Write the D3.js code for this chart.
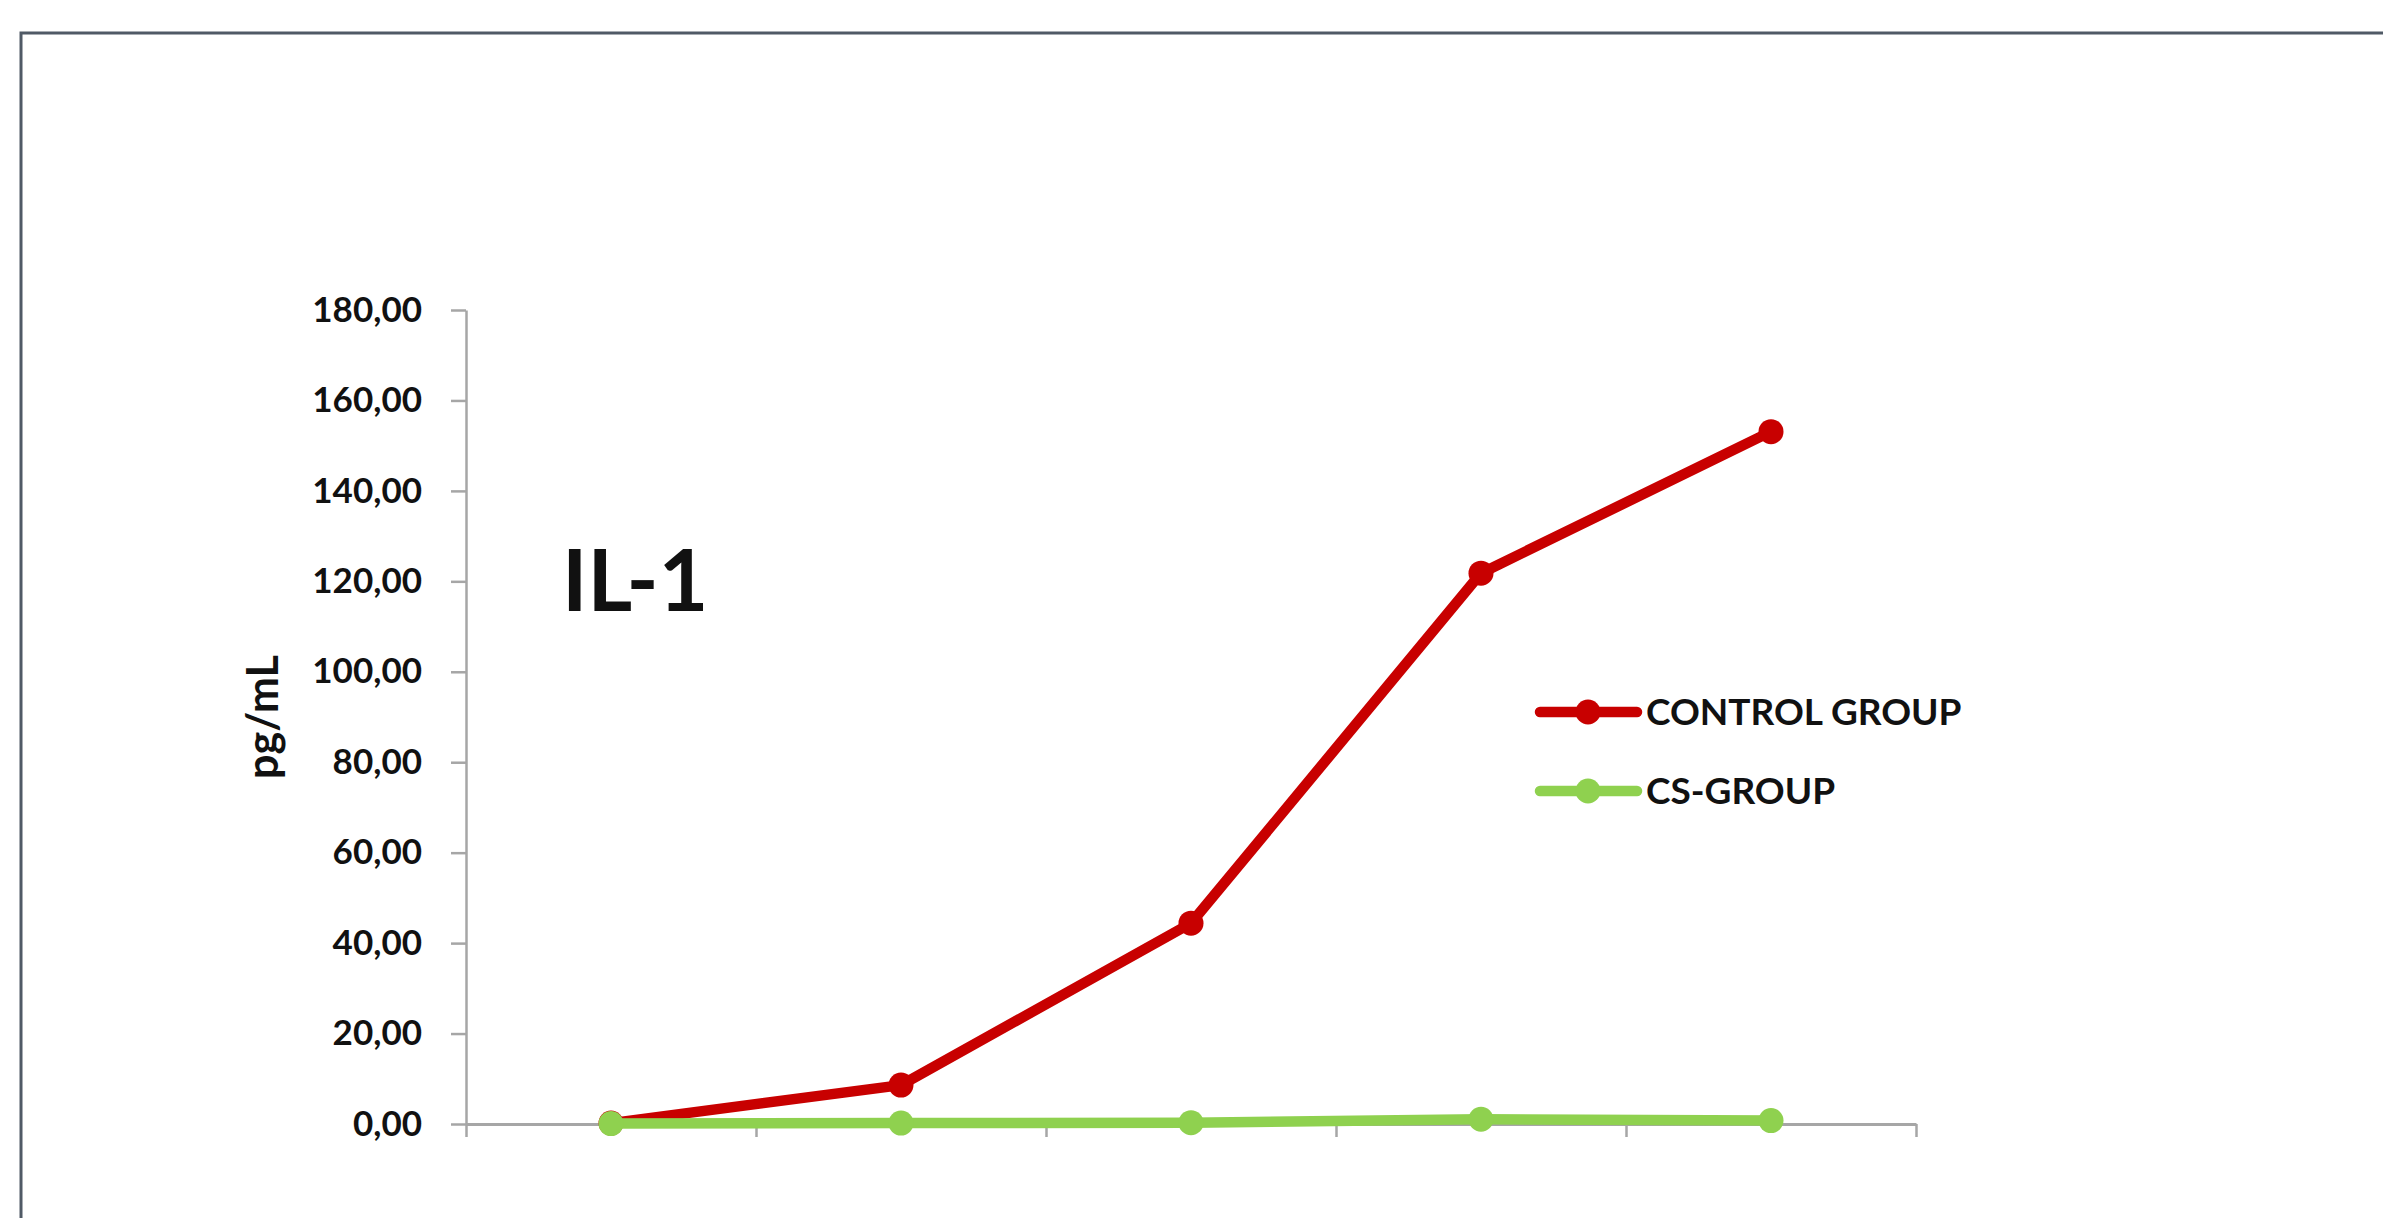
<!DOCTYPE html>
<html>
<head>
<meta charset="utf-8">
<script src="https://cdn.jsdelivr.net/npm/d3@7"></script>
<style>
  html, body { margin: 0; padding: 0; background: #ffffff; }
  svg { display: block; }
  text { font-family: Lato, "Open Sans", sans-serif; font-weight: 700; fill: #111; }
</style>
</head>
<body>
<svg id="chart" width="2383" height="1218"></svg>
<script>
// Sampling points along the x axis (unlabelled on the chart)
const timePoints = ["T1", "T2", "T3", "T4", "T5"];

// IL-1 concentration, pg/mL
const controlGroup = [0.2, 8.6, 44.4, 121.8, 153.1];
const csGroup = [0.1, 0.2, 0.3, 1.05, 0.75];

const seriesNames = ["CONTROL GROUP", "CS-GROUP"];
const seriesColors = ["#c80000", "#8fd14f"];

const yTicks = [0, 20, 40, 60, 80, 100, 120, 140, 160, 180];
const yMax = 180;

const chartTitle = "IL-1";
const yTitle = "pg/mL";

const svg = d3.select("#chart");

// Outer frame (left and top edges fall inside the canvas)
svg.append("path")
  .attr("d", "M21,1230 L21,33 L2400,33")
  .attr("fill", "none")
  .attr("stroke", "#505a66")
  .attr("stroke-width", 3);

const plot = { left: 466, right: 1916, top: 310, bottom: 1124 };

const x = d3.scaleBand()
  .domain(timePoints)
  .range([plot.left, plot.right])
  .padding(0);

const xBoundary = d3.scaleLinear()
  .domain([0, timePoints.length])
  .range([plot.left, plot.right]);

const y = d3.scaleLinear()
  .domain([0, yMax])
  .range([plot.bottom, plot.top]);

const fmt = v => d3.format(".2f")(v).replace(".", ",");

// Y axis
const yAxis = svg.append("g")
  .attr("transform", `translate(${plot.left},0)`)
  .call(d3.axisLeft(y).tickValues(yTicks).tickFormat(fmt)
    .tickSize(15).tickSizeOuter(0).tickPadding(29));
yAxis.select(".domain").attr("stroke", "#a6a6a6").attr("stroke-width", 2.5);
yAxis.selectAll(".tick line").attr("stroke", "#a6a6a6").attr("stroke-width", 2.5);
yAxis.selectAll(".tick text")
  .attr("font-size", 35)
  .attr("font-family", "Lato, sans-serif")
  .attr("font-weight", 700)
  .attr("fill", "#111");

// X axis with ticks on category boundaries
const xAxis = svg.append("g")
  .attr("transform", `translate(0,${plot.bottom})`)
  .call(d3.axisBottom(xBoundary).tickValues(d3.range(0, timePoints.length + 1))
    .tickFormat("").tickSize(13).tickSizeOuter(0));
xAxis.select(".domain").attr("stroke", "#a6a6a6").attr("stroke-width", 3);
xAxis.selectAll(".tick line").attr("stroke", "#a6a6a6").attr("stroke-width", 2.5);

// Y axis title
svg.append("text")
  .attr("transform", `translate(278,${(plot.top + plot.bottom) / 2}) rotate(-90)`)
  .attr("text-anchor", "middle")
  .attr("font-size", 43)
  .text(yTitle);

// Chart title inside the plot area
svg.append("text")
  .attr("x", 562)
  .attr("y", 611)
  .attr("font-size", 86)
  .attr("font-weight", 900)
  .text(chartTitle);

// Series lines and markers
const series = [controlGroup, csGroup];
const line = d3.line()
  .x((d, i) => x(timePoints[i]) + x.bandwidth() / 2)
  .y(d => y(d));

series.forEach((values, s) => {
  const g = svg.append("g");
  g.append("path")
    .datum(values)
    .attr("d", line)
    .attr("fill", "none")
    .attr("stroke", seriesColors[s])
    .attr("stroke-width", 10.5)
    .attr("stroke-linejoin", "round")
    .attr("stroke-linecap", "round");
  g.selectAll("circle")
    .data(values)
    .join("circle")
    .attr("cx", (d, i) => x(timePoints[i]) + x.bandwidth() / 2)
    .attr("cy", d => y(d))
    .attr("r", 12.5)
    .attr("fill", seriesColors[s]);
});

// Legend
const legend = svg.append("g");
const legendY = d3.scalePoint().domain(seriesNames).range([712, 791]);
seriesNames.forEach((name, s) => {
  const ly = legendY(name);
  legend.append("line")
    .attr("x1", 1540).attr("x2", 1637)
    .attr("y1", ly).attr("y2", ly)
    .attr("stroke", seriesColors[s])
    .attr("stroke-width", 10.5)
    .attr("stroke-linecap", "round");
  legend.append("circle")
    .attr("cx", 1588).attr("cy", ly).attr("r", 12.5)
    .attr("fill", seriesColors[s]);
  legend.append("text")
    .attr("x", 1646)
    .attr("y", ly)
    .attr("dy", "0.36em")
    .attr("font-size", 37)
    .text(name);
});
</script>
</body>
</html>
